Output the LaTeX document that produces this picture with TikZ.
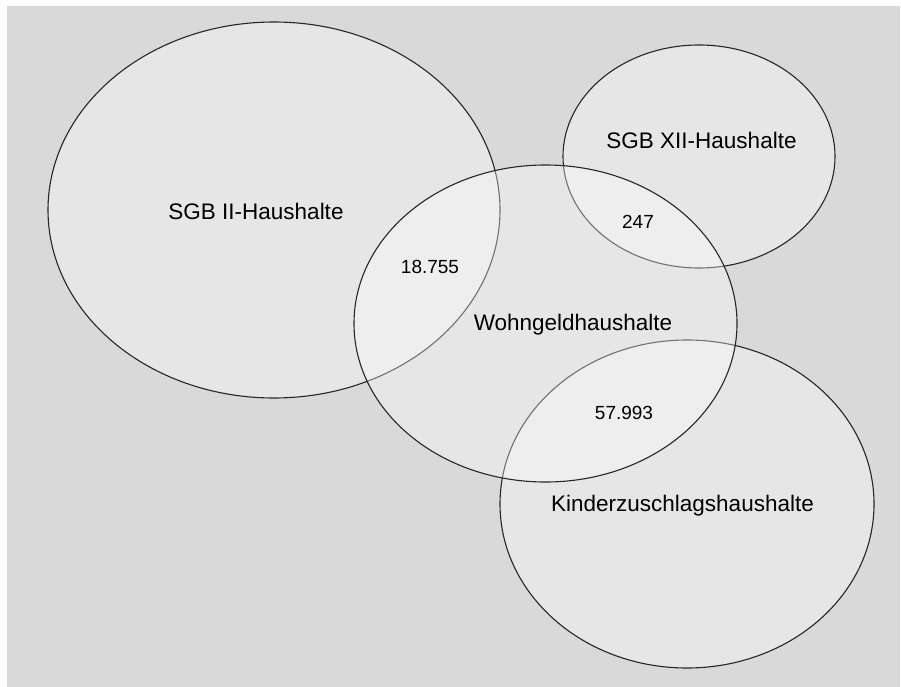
\documentclass[tikz,border=0pt]{standalone}
\usepackage{fontspec}
\setmainfont{Liberation Sans}
\usetikzlibrary{shapes.geometric}
\definecolor{panel}{HTML}{D9D9D9}
\definecolor{rim}{HTML}{262626}
\begin{document}
\begin{tikzpicture}[x=1pt,y=-1pt,
  venn/.style={ellipse,draw=rim,line width=1.1pt,fill=white,fill opacity=0.35,
    inner sep=0pt,outer sep=0pt},
  biglabel/.style={anchor=base,inner sep=0pt,font=\fontsize{22.5}{26}\selectfont,text=black},
  numlabel/.style={anchor=base,inner sep=0pt,font=\fontsize{19}{22}\selectfont,text=black}]
\useasboundingbox (0,0) rectangle (901,687);
\fill[panel] (7,6) rectangle (900,687);
% circles (Wohngeld drawn last)
\node[venn,minimum width=452pt,minimum height=376pt] (sgb2) at (274,210) {};
\node[venn,minimum width=272pt,minimum height=223pt] (sgb12) at (699,156.5) {};
\node[venn,minimum width=374pt,minimum height=328pt] (kiz) at (687,504) {};
\node[venn,minimum width=383pt,minimum height=317pt] (wg) at (545.5,323.5) {};
% labels
\node[biglabel] (tsgb2) at (256,219) {SGB II-Haushalte};
\node[biglabel] (tsgb12) at (701.5,149) {SGB XII-Haushalte};
\node[biglabel] (twg) at (573,330) {Wohngeldhaushalte};
\node[biglabel] (tkiz) at (682.5,511) {Kinderzuschlagshaushalte};
\node[numlabel] (n1) at (430,273) {18.755};
\node[numlabel] (n2) at (638,228) {247};
\node[numlabel] (n3) at (624,419) {57.993};
\end{tikzpicture}
\end{document}
